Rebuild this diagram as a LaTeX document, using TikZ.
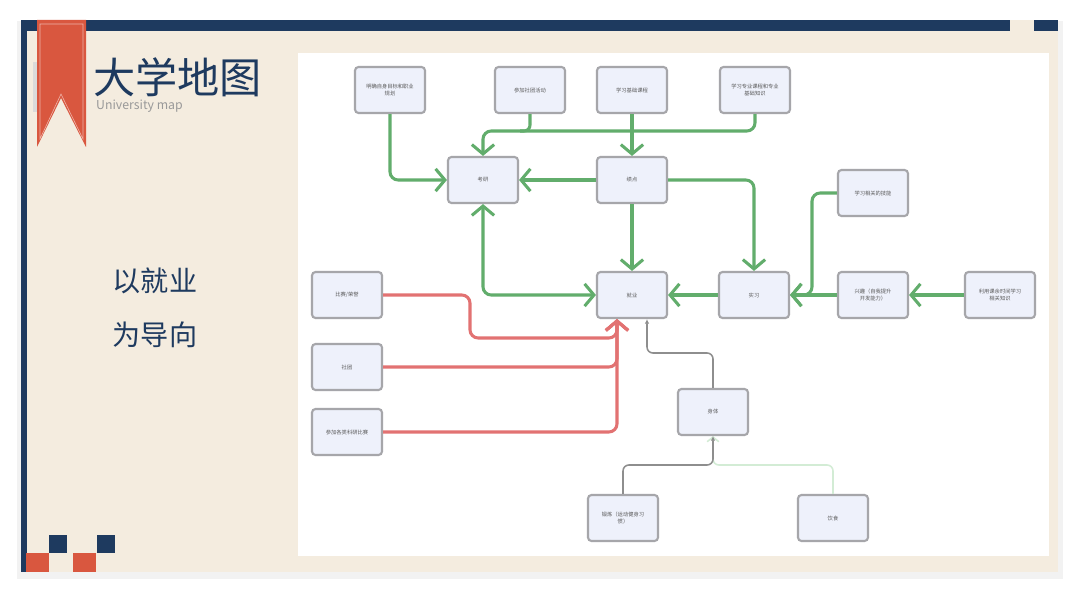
\documentclass[tikz,border=0pt]{standalone}
\usepackage{fontspec}
\setmainfont{Noto Sans CJK SC}
\usetikzlibrary{arrows.meta, positioning}
\definecolor{navy}{HTML}{1E3A5F}
\definecolor{ribbon}{HTML}{D9573F}
\definecolor{cream}{HTML}{F4ECDF}
\definecolor{boxfill}{HTML}{EEF1FB}
\definecolor{boxline}{HTML}{A6A6AA}
\definecolor{mygreen}{HTML}{62AD6C}
\definecolor{myred}{HTML}{E27272}
\definecolor{mygray}{HTML}{8E8E8E}
\definecolor{palegreen}{HTML}{D3ECD5}
\tikzset{
  >=latex,
  % boxes of the map
  mapbox/.style={draw=boxline, line width=1.8pt, fill=boxfill, rounded corners=3pt,
    minimum width=2.1cm, minimum height=1.38cm, inner sep=1pt, align=center,
    text=black!65, font=\fontsize{4.5}{6}\selectfont},
  % connectors
  connect green/.style={mygreen, line width=2.6pt, rounded corners=7pt,
    -{Straight Barb[length=8pt,width=19pt]}},
  connect red/.style={myred, line width=2.6pt, rounded corners=7pt,
    -{Straight Barb[length=8pt,width=19pt]}},
  connect gray/.style={mygray, line width=1.3pt, rounded corners=5pt,
    -{Latex[length=4pt,width=4pt]}},
  connect pale/.style={palegreen, line width=1.3pt, rounded corners=5pt,
    -{Straight Barb[length=4pt,width=10pt]}}
}
\begin{document}
\begin{tikzpicture}[x=0.03cm, y=-0.03cm]
  \useasboundingbox (0,0) rectangle (1080,593);
  % card
  \fill[black!5] (17,21) rectangle (1063,579);
  \fill[cream] (22,20) rectangle (1058,572);
  \fill[navy] (22,20) rectangle (1058,31);
  \fill[cream] (1010,20) rectangle (1034,31);
  \fill[navy] (21,20) rectangle (27,572);
  \fill[white] (298,53) rectangle (1049,556);
  % ribbon
  \fill[black!14] (33,62) rectangle (37,112);
  \fill[ribbon] (37,20) -- (86,20) -- (86,147) -- (61,98) -- (37,147) -- cycle;
  \draw[ribbon!45!white, line width=0.5pt] (40,24) -- (83,24) -- (83,139) -- (61,94) -- (40,139) -- cycle;
  % squares at the foot
  \foreach \i in {0,1}{
    \fill[ribbon] (26+\i*47,553) rectangle ++(23,19);
    \fill[navy] (49+\i*48,535) rectangle ++(18,18);
  }
  % titles
  \node[navy, anchor=west, inner sep=0, font=\fontsize{36}{36}\selectfont] (title) at (93,77) {大学地图};
  \node[black!40, anchor=west, inner sep=0, font=\fontsize{10.5}{11}\selectfont] (subtitle) at (96,106) {University map};
  \node[navy, font=\fontsize{24}{25}\selectfont] (aim1) at (155,281) {以就业};
  \node[navy, font=\fontsize{24}{25}\selectfont] (aim2) at (155,335) {为导向};

  % boxes
  \node[mapbox] (plan) at (390,90) {明确自身目标和职业\\规划};
  \node[mapbox] (club) at (530,90) {参加社团活动};
  \node[mapbox] (basic) at (632,90) {学习基础课程};
  \node[mapbox] (major) at (755,90) {学习专业课程和专业\\基础知识};
  \node[mapbox] (exam) at (483,180) {考研};
  \node[mapbox] (gpa) at (632,180) {绩点};
  \node[mapbox] (job) at (632,295) {就业};
  \node[mapbox] (intern) at (754,295) {实习};
  \node[mapbox] (skill) at (873,193) {学习相关的技能};
  \node[mapbox] (hobby) at (873,295) {兴趣（自我提升\\开发能力）};
  \node[mapbox] (spare) at (1000,295) {利用课余时间学习\\相关知识};
  \node[mapbox] (prize) at (347,295) {比赛/荣誉};
  \node[mapbox] (society) at (347,367) {社团};
  \node[mapbox] (research) at (347,432) {参加各类科研比赛};
  \node[mapbox] (body) at (713,412) {身体};
  \node[mapbox] (sport) at (623,518) {锻炼（运动健身习\\惯）};
  \node[mapbox] (food) at (833,518) {饮食};

  % green connectors
  \draw[connect green] (plan.south) |- (exam.west);
  \draw[mygreen, line width=2.6pt, rounded corners=5pt] (club.south) -- (530,131) -- (520,131);
  \draw[connect green] (major.south) -- (755,131) -| (exam.north);
  \draw[connect green] (basic.south) -- (gpa.north);
  \draw[connect green] (gpa.west) -- (exam.east);
  \draw[connect green] (gpa.south) -- (job.north);
  \draw[connect green] (gpa.east) -| (intern.north);
  \draw[connect green, {Straight Barb[length=8pt,width=19pt]}-{Straight Barb[length=8pt,width=19pt]}] (exam.south) |- (job.west);
  \draw[connect green] (intern.west) -- (job.east);
  \draw[connect green] (skill.west) -- (812,193) |- (intern.east);
  \draw[connect green] (hobby.west) -- (intern.east);
  \draw[connect green] (spare.west) -- (hobby.east);

  % red connectors
  \draw[connect red] (prize.east) -- (470,295) -- (470,338) -| ([xshift=-0.45cm]job.south);
  \draw[connect red] (society.east) -| ([xshift=-0.45cm]job.south);
  \draw[connect red] (research.east) -| ([xshift=-0.45cm]job.south);

  % gray connectors
  \draw[connect gray] (body.north) -- (713,353) -| ([xshift=0.45cm]job.south);
  \draw[connect pale] (food.north) -- (833,465) -| (body.south);
  \draw[connect gray] (sport.north) -- (623,465) -| (body.south);
\end{tikzpicture}
\end{document}
